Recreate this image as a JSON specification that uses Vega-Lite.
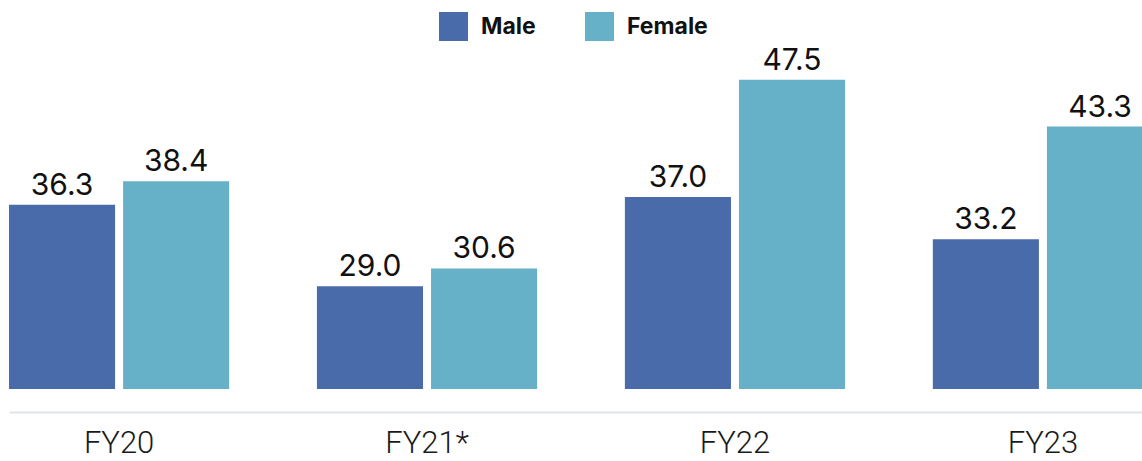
{
  "$schema": "https://vega.github.io/schema/vega-lite/v6.json",
  "autosize": {"type": "none"},
  "width": 1133,
  "height": 335,
  "padding": {"left": 9, "top": 54, "right": 0, "bottom": 72},
  "background": "white",
  "config": {"view": {"stroke": null}, "font": "Inter"},
  "data": {"values": [
    {"year": "FY20", "gender": "Male", "value": 36.3},
    {"year": "FY20", "gender": "Female", "value": 38.4},
    {"year": "FY21*", "gender": "Male", "value": 29.0},
    {"year": "FY21*", "gender": "Female", "value": 30.6},
    {"year": "FY22", "gender": "Male", "value": 37.0},
    {"year": "FY22", "gender": "Female", "value": 47.5},
    {"year": "FY23", "gender": "Male", "value": 33.2},
    {"year": "FY23", "gender": "Female", "value": 43.3}
  ]},
  "encoding": {
    "x": {"field": "year", "type": "nominal", "sort": null,
      "scale": {"range": [0, 1144], "paddingInner": 0.285, "paddingOuter": 0},
      "axis": {"title": null, "labelAngle": 0, "ticks": false, "tickSize": 0, "offset": 23,
        "domainColor": "#dfe3ea", "domainWidth": 2, "labelFont": "Roboto", "labelFontSize": 31,
        "labelFontWeight": 300, "labelColor": "#1a1a1a", "labelPadding": 16, "labelBaseline": "top"}},
    "xOffset": {"field": "gender", "type": "nominal", "sort": ["Male", "Female"],
      "scale": {"paddingInner": 0.0702, "paddingOuter": 0}},
    "y": {"field": "value", "type": "quantitative", "stack": null,
      "scale": {"domain": [19.8, 49.8], "zero": false, "nice": false}, "axis": null}
  },
  "layer": [
    {"mark": {"type": "bar"},
      "encoding": {"color": {"field": "gender", "type": "nominal", "sort": ["Male", "Female"],
        "scale": {"domain": ["Male", "Female"], "range": ["#4a6baa", "#66b0c8"]},
        "legend": {"title": null, "orient": "none", "legendX": 430, "legendY": -42, "direction": "horizontal",
          "symbolType": "square", "symbolSize": 841, "symbolStrokeWidth": 0, "symbolOpacity": 1,
          "labelFont": "Inter", "labelFontSize": 23, "labelFontWeight": 700, "labelColor": "#111111",
          "labelOffset": 13, "columnPadding": 49, "padding": 0}}}},
    {"mark": {"type": "text", "baseline": "alphabetic", "dy": -10, "fontSize": 30, "font": "Inter", "color": "#111111"},
      "encoding": {"text": {"field": "value", "type": "quantitative", "format": ".1f"}}}
  ]
}
